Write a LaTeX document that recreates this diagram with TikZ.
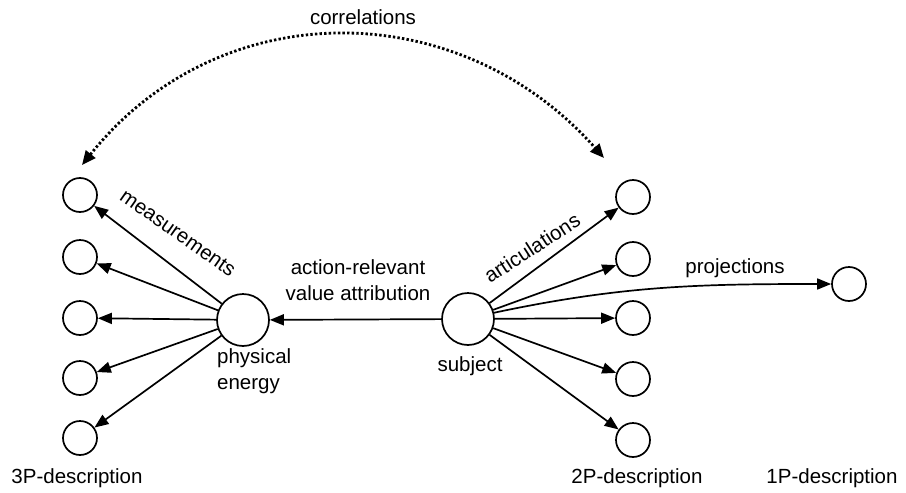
\documentclass[tikz,border=0pt]{standalone}
\usepackage{fontspec}
\setmainfont{Liberation Sans}
\usetikzlibrary{arrows.meta}
\begin{document}
\begin{tikzpicture}[x=1pt,y=-1pt,
  small/.style={circle,draw,line width=1.7pt,minimum size=34pt,inner sep=0pt},
  big/.style={circle,draw,line width=1.7pt,minimum size=52pt,inner sep=0pt},
  arr/.style={line width=1.7pt,-{Triangle[length=14pt,width=11pt]}},
  lbl/.style={font=\fontsize{20.5}{25.5}\selectfont,inner sep=0pt},
  dots/.style={line width=2.8pt,dash pattern=on 2.4pt off 2.2pt,{Triangle[length=14pt,width=12pt]}-{Triangle[length=14pt,width=12pt]}}]
\useasboundingbox (0,0) rectangle (906,493);
% left column
\node[small] (l1) at (80,195) {};
\node[small] (l2) at (80,257) {};
\node[small] (l3) at (80,318) {};
\node[small] (l4) at (80,378) {};
\node[small] (l5) at (80,438) {};
% right column
\node[small] (r1) at (633,197) {};
\node[small] (r2) at (633,259) {};
\node[small] (r3) at (633,318) {};
\node[small] (r4) at (633,379) {};
\node[small] (r5) at (633,440) {};
% centre nodes
\node[big] (pe) at (243,320) {};
\node[big] (su) at (468,319) {};
\node[small] (p1) at (849,284) {};
% arrows
\foreach \i in {1,...,5} {\draw[arr] (pe) -- (l\i);}
\foreach \i in {1,...,5} {\draw[arr] (su) -- (r\i);}
\draw[arr] (su) -- (pe);
\draw[arr] (su.east) ++(-2,-6) coordinate (ps) (ps) to[out=12,in=180] (p1);
% correlations
\coordinate (cl) at (82,165);
\coordinate (cr) at (604,158);
\draw[dots] (cl) .. controls (220,-8) and (460,-5) .. (cr);
% labels
\node[lbl] (corr) at (363,17) {correlations};
\node[lbl,rotate=-35] (meas) at (178,233) {measurements};
\node[lbl,rotate=33] (artic) at (532,248) {articulations};
\node[lbl,align=center] (arva) at (358,280) {action-relevant\\value attribution};
\node[lbl,align=left,anchor=west] (phys) at (217,371) {physical\\energy};
\node[lbl] (subj) at (470,366) {subject};
\node[lbl] (proj) at (735,268) {projections};
\node[lbl] (d3) at (77,478) {3P-description};
\node[lbl] (d2) at (637,478) {2P-description};
\node[lbl] (d1) at (832,478) {1P-description};
\end{tikzpicture}
\end{document}
